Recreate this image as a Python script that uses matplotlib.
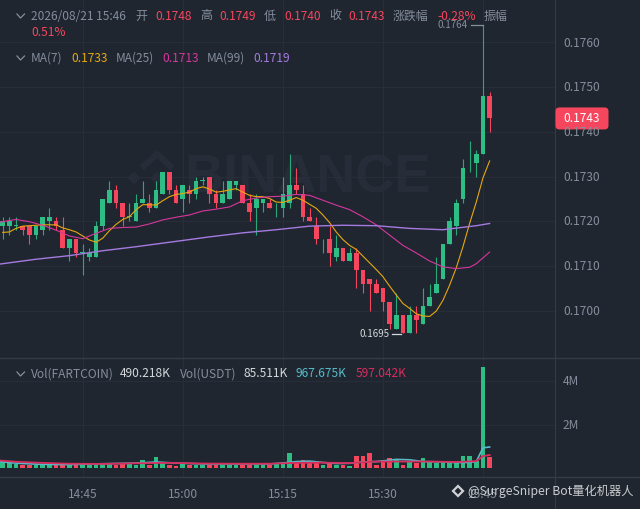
"""K-line chart FARTCOIN/USDT 1m with MA lines and a volume pane."""

import matplotlib
matplotlib.use("Agg")
import matplotlib.pyplot as plt
from matplotlib.patches import FancyBboxPatch, Polygon
from matplotlib.transforms import Affine2D

plt.rcParams['font.family'] = ['Noto Sans CJK SC', 'DejaVu Sans']

# ── Data ──────────────────────────────────────────────────────────────────────

opens = [.1719, .1719, .1719, .1719, .1719, .1717, .1718, .1720, .1720, .1718,
         .1714, .1716, .1713, .1712, .1712, .1719, .1724, .1727, .1724, .1721,
         .1720, .1724, .1724, .1723, .1726, .1731, .1727, .1725, .1727, .1726,
         .1729, .1730, .1726, .1724, .1725, .1728, .1728, .1724, .1723, .1724,
         .1724, .1724, .1723, .1724, .1728, .1726, .1721, .1719, .1716, .1716,
         .1712, .1714, .1711, .1713, .1709, .1707, .1706, .1705, .1702, .1696,
         .1699, .1695, .1699, .1697, .1701, .1704, .1707, .1715, .1719, .1725,
         .1733, .1733, .1735, .1748]
highs = [.1721, .1721, .1721, .1719, .1719, .1719, .1721, .1723, .1721, .1721,
         .1716, .1716, .1715, .1714, .1720, .1725, .1729, .1728, .1724, .1724,
         .1726, .1729, .1726, .1729, .1731, .1731, .1728, .1728, .1728, .1730,
         .1730, .1730, .1727, .1729, .1729, .1729, .1728, .1726, .1726, .1725,
         .1725, .1724, .1730, .1735, .1732, .1728, .1723, .1721, .1716, .1719,
         .1717, .1714, .1714, .1714, .1709, .1707, .1707, .1705, .1702, .1704,
         .1699, .1701, .1701, .1705, .1706, .1712, .1715, .1721, .1725, .1734,
         .1738, .1736, .1764, .1749]
lows = [.1716, .1717, .1718, .1717, .1715, .1716, .1717, .1718, .1718, .1714,
        .1711, .1712, .1708, .1711, .1712, .1718, .1724, .1723, .1719, .1720,
        .1720, .1724, .1722, .1723, .1726, .1726, .1724, .1722, .1724, .1725,
        .1728, .1724, .1723, .1724, .1725, .1727, .1724, .1720, .1717, .1722,
        .1723, .1721, .1721, .1723, .1726, .1720, .1720, .1715, .1713, .1710,
        .1711, .1711, .1711, .1705, .1704, .1700, .1704, .1700, .1696, .1696,
        .1695, .1695, .1695, .1697, .1701, .1704, .1707, .1715, .1717, .1724,
        .1731, .1730, .1735, .1740]
closes = [.1720, .1720, .1719, .1718, .1717, .1719, .1721, .1721, .1719, .1714,
          .1716, .1713, .1713, .1713, .1719, .1725, .1727, .1724, .1721, .1721,
          .1724, .1725, .1723, .1727, .1731, .1727, .1724, .1728, .1726, .1729,
          .1729, .1726, .1724, .1726, .1729, .1729, .1724, .1722, .1725, .1725,
          .1723, .1724, .1726, .1728, .1727, .1721, .1720, .1716, .1716, .1713,
          .1714, .1711, .1713, .1709, .1706, .1706, .1704, .1702, .1697, .1699,
          .1695, .1699, .1698, .1701, .1703, .1706, .1715, .1720, .1724, .1732,
          .1733, .1735, .1748, .1743]
volumes = [.30, .25, .20, .15, .13, .15, .13, .13, .12, .12,
           .12, .13, .23, .15, .13, .23, .22, .15, .25, .18,
           .13, .35, .15, .49, .26, .12, .10, .22, .12, .14,
           .12, .14, .13, .14, .15, .12, .14, .15, .13, .12,
           .12, .18, .28, .69, .30, .37, .26, .25, .15, .23,
           .15, .15, .08, .54, .54, .69, .12, .38, .46, .38,
           .15, .28, .23, .46, .28, .23, .30, .28, .28, .54,
           .54, .34, 4.66, .49]

ma7 = [.17175, .17176, .17184, .17189, .17190, .17191, .17192, .17192, .17192, .17185,
       .17181, .17176, .17167, .17158, .17153, .17162, .17179, .17193, .17204, .17210,
       .17226, .17237, .17237, .17236, .17246, .17255, .17260, .17262, .17265, .17273,
       .17277, .17272, .17265, .17267, .17270, .17273, .17265, .17258, .17255, .17255,
       .17251, .17243, .17242, .17247, .17253, .17247, .17238, .17229, .17214, .17197,
       .17176, .17159, .17146, .17137, .17122, .17107, .17092, .17076, .17055, .17035,
       .17016, .17005, .16993, .16988, .16987, .16999, .17023, .17057, .17096, .17143,
       .17195, .17243, .17297, .17335]
ma7_idx = list(range(len(ma7)))
ma25_idx = [-1, 0, 2, 4, 6, 8, 10, 12, 14, 16, 18, 20, 22, 24, 26, 28, 30, 32, 34, 36, 38,
            40, 42, 44, 46, 48, 50, 52, 54, 56, 58, 60, 62, 64, 66, 68, 70, 71, 72, 73]
ma25 = [.17197, .17199, .17204, .17199, .17191, .17180, .17167, .17161, .17173, .17184, .17186,
        .17187, .17194, .17203, .17209, .17214, .17223, .17227, .17232, .17246, .17252,
        .17255, .17256, .17260, .17258, .17247, .17236, .17226, .17210, .17192, .17169,
        .17146, .17129, .17111, .17098, .17094, .17097, .17105, .17118, .17131]
ma99_idx = [-1, 0, 5, 10, 15, 20, 26, 31, 36, 41, 46, 51, 56, 61, 66, 71, 73]
ma99 = [.17103, .17105, .17115, .17123, .17134, .17143, .17155, .17165, .17174, .17181, .17189,
        .17191, .17190, .17184, .17181, .17190, .17195]

vol_ma5_idx = [-1, 1, 3, 6, 10, 15, 20, 23, 26, 30, 35, 40, 42, 44, 46, 48, 50, 52, 54,
               56, 58, 59, 61, 63, 66, 68, 70, 71, 72, 73]
vol_ma5 = [.32, .25, .21, .17, .16, .20, .23, .28, .23, .19, .19, .19, .23, .30, .32,
           .26, .21, .22, .28, .30, .36, .40, .38, .30, .28, .25, .26, .30, .93, .97]
vol_ma10_idx = [-1, 2, 5, 10, 15, 20, 25, 30, 35, 40, 44, 48, 52, 56, 60, 64, 68, 71, 72, 73]
vol_ma10 = [.36, .29, .25, .20, .19, .22, .24, .21, .20, .20, .24, .25, .23, .30, .30,
            .30, .28, .32, .55, .60]

time_ticks = [12, 27, 42, 57, 72]
time_labels = ["14:45", "15:00", "15:15", "15:30", "15:45"]
price_ticks = [.1700, .1710, .1720, .1730, .1740, .1750, .1760]
price_labels = ["0.1700", "0.1710", "0.1720", "0.1730", "0.1740", "0.1750", "0.1760"]
vol_ticks = [2, 4]
vol_labels = ["2M", "4M"]

# ── Style ─────────────────────────────────────────────────────────────────────

W, H = 640, 509
BG = "#1f2630"
GRID = "#272e39"
SEP = "#343b47"
UP = "#2ebd85"
WICK_UP = "#2aa87a"
DOWN = "#f6465d"
GRAY = "#848e9c"
WHITE = "#d5d8dc"
C_MA7 = "#e6a80f"
C_MA25 = "#d6379c"
C_MA99 = "#a57ae0"
C_V5 = "#56bccb"
C_V10 = "#d92c5e"
FS = 8.6

fig = plt.figure(figsize=(W / 100, H / 100), dpi=100, facecolor=BG)
px = Affine2D().scale(1 / W, -1 / H).translate(0, 1) + fig.transFigure


def add_axes(top, bottom):
    ax = fig.add_axes([0, 1 - bottom / H, 555 / W, (bottom - top) / H])
    ax.patch.set_alpha(0)
    for s in ax.spines.values():
        s.set_visible(False)
    ax.set_xlim(-0.405, 82.8)
    ax.set_xticks(time_ticks)
    ax.set_xticklabels([])
    ax.tick_params(length=0, labelleft=False)
    ax.grid(True, color=GRID, linewidth=0.8)
    ax.set_axisbelow(True)
    return ax


def put(x, y, s, color=GRAY, size=FS, ha='left', **kw):
    fig.text(x, y, s, color=color, fontsize=size, ha=ha, va='center', transform=px, **kw)


def chevron(y):
    fig.add_artist(plt.Line2D([17, 20.5, 24.5], [y - 2, y + 2, y - 2], color=GRAY,
                              linewidth=0.9, transform=px))


# ── Price pane ────────────────────────────────────────────────────────────────

ax = add_axes(0, 358)
ax.set_ylim(.16894, .17695)
ax.set_yticks(price_ticks)

# watermark
ax.text(0.333, 0.502, "BINANCE", transform=ax.transAxes, color="#262d38", fontsize=39,
        fontweight='bold', ha='left', va='center', zorder=0.5, family='Liberation Sans')
for cx, cy, r in [(134, 178, 6.5), (157, 178, 6.5), (157, 199, 6)]:
    fig.add_artist(Polygon([(cx - r, cy), (cx, cy - r), (cx + r, cy), (cx, cy + r)],
                           closed=True, fc="#262d38", ec='none', transform=px, zorder=-1))
fig.add_artist(plt.Line2D([144, 157, 170], [166, 154, 166], color="#262d38", linewidth=4.5,
                          transform=px, zorder=-1))

xs = list(range(len(opens)))
colors = [UP if c >= o else DOWN for o, c in zip(opens, closes)]
wick_colors = [WICK_UP if c >= o else DOWN for o, c in zip(opens, closes)]
ax.vlines(xs, lows, highs, colors=wick_colors, linewidth=0.8, zorder=2)
body_h = [max(abs(c - o), .000012) for o, c in zip(opens, closes)]
body_b = [min(o, c) for o, c in zip(opens, closes)]
ax.bar(xs, body_h, bottom=body_b, width=0.7, color=colors, linewidth=0, zorder=3)

ax.plot(ma7_idx, ma7, color=C_MA7, linewidth=0.8, zorder=4)
ax.plot(ma25_idx, ma25, color=C_MA25, linewidth=0.8, zorder=4)
ax.plot(ma99_idx, ma99, color=C_MA99, linewidth=1.0, zorder=4)

# high / low markers
i_hi = highs.index(max(highs))
i_lo = lows.index(min(lows))
hi_y = H - ax.transData.transform((0, max(highs)))[1]
lo_y = H - ax.transData.transform((0, min(lows)))[1]
hi_x = ax.transData.transform((i_hi, 0))[0]
lo_x = ax.transData.transform((i_lo, 0))[0]
fig.add_artist(plt.Line2D([hi_x - 12, hi_x], [hi_y, hi_y], color=GRAY, linewidth=0.9, transform=px))
fig.add_artist(plt.Line2D([lo_x - 10.5, lo_x - 2], [lo_y + 0.7, lo_y + 0.7], color=WHITE,
                          linewidth=0.9, transform=px))
put(hi_x - 15.5, hi_y, f"{max(highs):.4f}", size=7.0, ha='right')
put(lo_x - 13.5, lo_y + 0.7, f"{min(lows):.4f}", color=WHITE, size=7.0, ha='right')

for t, lab in zip(price_ticks, price_labels):
    y = H - ax.transData.transform((0, t))[1]
    put(563, y + 0.7, lab)

# last price badge
y_last = H - ax.transData.transform((0, closes[-1]))[1]
fig.add_artist(FancyBboxPatch((555.5, y_last - 11), 53, 22, boxstyle="round,pad=0,rounding_size=4",
                              fc="#f6465d", ec='none', transform=px, zorder=3))
put(582, y_last + 0.5, f"{closes[-1]:.4f}", color="white", ha='center', zorder=4)

# ── Volume pane ───────────────────────────────────────────────────────────────

vax = add_axes(358, 477)
vax.set_ylim(-0.41, 5.06)
vax.set_yticks(vol_ticks)
vax.bar(xs, volumes, width=0.7, color=colors, linewidth=0, zorder=2)
vax.plot(vol_ma5_idx, vol_ma5, color=C_V5, linewidth=1.2, zorder=3)
vax.plot(vol_ma10_idx, vol_ma10, color=C_V10, linewidth=1.3, zorder=3)
for t, lab in zip(vol_ticks, vol_labels):
    put(563, H - vax.transData.transform((0, t))[1] + 0.7, lab)

# separators
for y in (358, 477):
    fig.add_artist(plt.Line2D([0, W], [y, y], color=SEP, linewidth=1.0, transform=px))
fig.add_artist(plt.Line2D([555, 555], [0, H], color=SEP, linewidth=0.8, transform=px))

# time axis
for t, lab in zip(time_ticks, time_labels):
    x = vax.transData.transform((t, 0))[0] * W / fig.bbox.width
    put(x, 494.5, lab, ha='center')

# ── Header text ───────────────────────────────────────────────────────────────

chevron(16)
for x, s, c in [(31, "2026/08/21 15:46", GRAY), (135, "开", GRAY), (155, "0.1748", DOWN),
                (200, "高", GRAY), (219, "0.1749", DOWN), (264, "低", GRAY), (284, "0.1740", DOWN),
                (329, "收", GRAY), (348, "0.1743", DOWN), (393, "涨跌幅", GRAY),
                (437, "-0.28%", DOWN), (484, "振幅", GRAY)]:
    put(x, 16, s, color=c)
put(31, 32.5, "0.51%", color=DOWN)

chevron(58)
for x, s, c in [(31, "MA(7)", GRAY), (71, "0.1733", C_MA7), (116, "MA(25)", GRAY),
                (162, "0.1713", C_MA25), (207, "MA(99)", GRAY), (253, "0.1719", C_MA99)]:
    put(x, 58.5, s, color=c)

chevron(374)
for x, s, c in [(31, "Vol(FARTCOIN)", GRAY), (120, "490.218K", WHITE), (180, "Vol(USDT)", GRAY),
                (244, "85.511K", WHITE), (296, "967.675K", C_V5), (356, "597.042K", C_V10)]:
    put(x, 374, s, color=c)

# repost credit
put(468, 491, "@SurgeSniper Bot量化机器人", color="#c9cbce", size=8.8, zorder=5)
fig.add_artist(Polygon([(453, 491), (458, 486), (463, 491), (458, 496)], closed=True,
                       fc='none', ec="#d0d2d5", linewidth=1.6, transform=px, zorder=5))

fig.savefig("out.png", dpi=100, facecolor=BG)
plt.close(fig)
